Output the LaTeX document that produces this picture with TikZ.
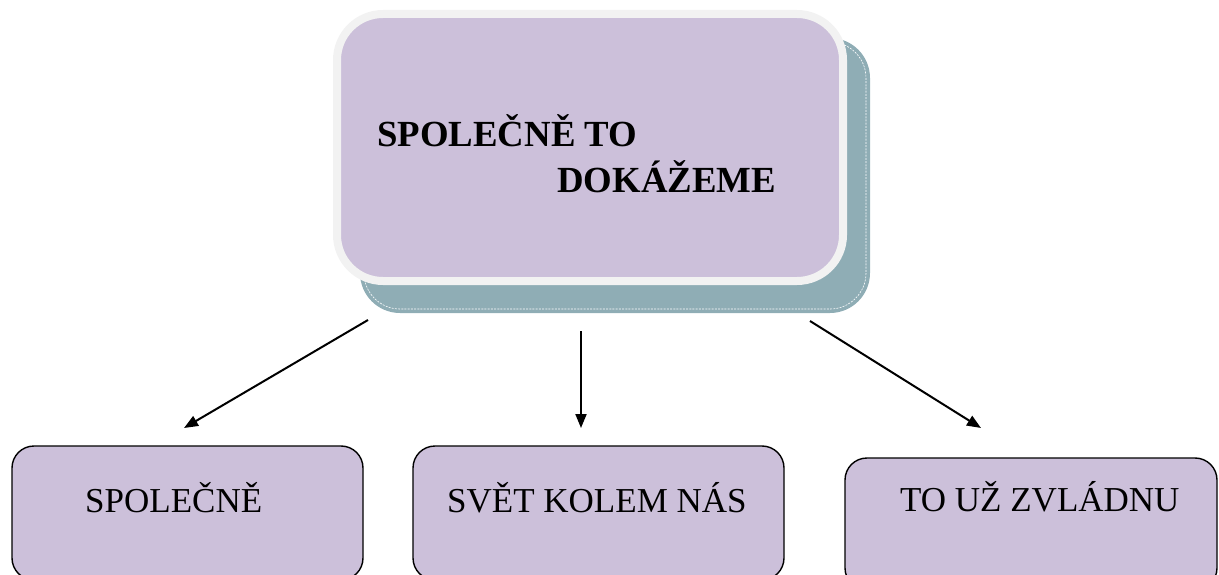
\documentclass[tikz,border=0pt]{standalone}
\usepackage{fontspec}
\setmainfont{Liberation Serif}
\usetikzlibrary{arrows.meta,calc}
\definecolor{lav}{HTML}{CCC0DA}
\definecolor{shadowteal}{HTML}{8FADB5}
\definecolor{framegray}{HTML}{F2F2F2}
\tikzset{
  mainbox/.style={rectangle, rounded corners=46pt, fill=lav, draw=framegray, line width=8pt,
    minimum width=506pt, minimum height=267pt, inner sep=0pt, outer sep=0pt},
  subbox/.style={rectangle, rounded corners=22pt, fill=lav, draw=black, line width=1.4pt,
    inner sep=0pt, outer sep=0pt},
  titletext/.style={font=\fontsize{36.8}{42}\selectfont\bfseries, inner sep=0pt, anchor=base west},
  subtext/.style={font=\fontsize{35}{40}\selectfont, inner sep=0pt, anchor=base west},
  conn/.style={line width=2pt, -{Triangle[length=14pt,width=11pt]}}
}
\begin{document}
\begin{tikzpicture}[x=1pt,y=-1pt]
\useasboundingbox (0,0) rectangle (1219,575);
\clip (0,0) rectangle (1219,575);
% shadow of main box
\fill[shadowteal, rounded corners=40pt] (360,38) rectangle (870,313);
\draw[white, line width=0.6pt, dash pattern=on 2pt off 1.2pt, rounded corners=36pt] (364,42) rectangle (866,309);
% main box
\node[mainbox] (top) at (590,147.5) {};
\node[titletext] (t1) at (377,147) {SPOLEČNĚ TO};
\node[titletext] (t2) at (557,193) {DOKÁŽEME};
% bottom boxes
\node[subbox, minimum width=351pt, minimum height=134pt] (left) at (187.5,513) {};
\node[subbox, minimum width=371pt, minimum height=134pt] (mid) at (598.5,513) {};
\node[subbox, minimum width=372pt, minimum height=132pt] (right) at (1031,524) {};
\node[subtext] (l1) at (85,512) {SPOLEČNĚ};
\node[subtext] (m1) at (447,512) {SVĚT KOLEM NÁS};
\node[subtext] (r1) at (900,511) {TO UŽ ZVLÁDNU};
% connectors
\coordinate (s1) at (368,320);
\coordinate (e1) at (184,428);
\coordinate (s2) at (581,331);
\coordinate (e2) at (581,428);
\coordinate (s3) at (810,321);
\coordinate (e3) at (981,428);
\draw[conn] (s1) -- (e1);
\draw[conn] (s2) -- (e2);
\draw[conn] (s3) -- (e3);
\end{tikzpicture}
\end{document}
